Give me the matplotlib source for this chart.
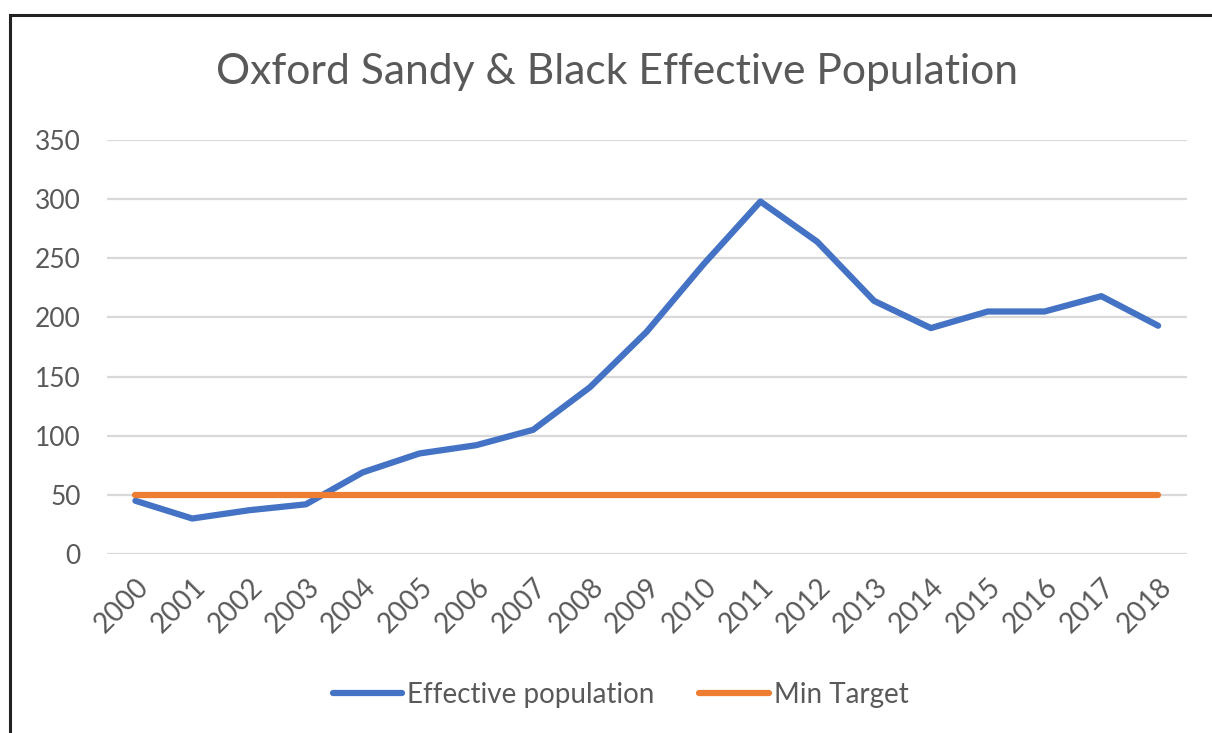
import matplotlib
matplotlib.use("Agg")
import matplotlib.pyplot as plt
from matplotlib.patches import Rectangle

# Data
years = [str(y) for y in range(2000, 2019)]
effective_population = [45, 30, 37, 42, 69, 85, 92, 105, 141, 188, 245, 298,
                        264, 214, 191, 205, 205, 218, 193]
min_target = [50] * len(years)
y_ticks = [0, 50, 100, 150, 200, 250, 300, 350]

plt.rcParams['font.family'] = ['Lato', 'DejaVu Sans']
text_grey = '#595959'

fig = plt.figure(figsize=(12.12, 7.33), dpi=100)
ax = fig.add_axes([0.0883, 0.2442, 0.8907, 0.5648])

x = list(range(len(years)))
ax.plot(x, effective_population, color='#4472C4', lw=4.5,
        solid_capstyle='round', solid_joinstyle='round',
        label='Effective population', zorder=3)
ax.plot(x, min_target, color='#ED7D31', lw=4.5,
        solid_capstyle='round', label='Min Target', zorder=3)

ax.set_xlim(-0.5, len(years) - 0.5)
ax.set_ylim(0, 350)
ax.set_yticks(y_ticks)
ax.set_xticks(x)
ax.set_xticklabels(years, rotation=45, ha='right', rotation_mode='anchor')
ax.grid(axis='y', color='#D9D9D9', lw=1.6)
ax.set_axisbelow(True)
for s in ax.spines.values():
    s.set_visible(False)
ax.tick_params(axis='both', length=0, colors=text_grey)
ax.tick_params(axis='y', pad=19, labelsize=19)
ax.tick_params(axis='x', pad=14, labelsize=20)

fig.text(0.509, 0.902, 'Oxford Sandy & Black Effective Population',
         ha='center', va='center', fontsize=30.7, color=text_grey)

leg = fig.legend(loc='center', bbox_to_anchor=(0.512, 0.052), ncol=2,
                 frameon=False, fontsize=20, handlelength=2.5,
                 handletextpad=0.18, columnspacing=1.6)
for t in leg.get_texts():
    t.set_color(text_grey)

# black frame around the chart, cut off at right and bottom like the screenshot
fig.patches.append(Rectangle((10 / 1212, -0.05), 1.1, 1 - 15 / 733 + 0.05,
                             transform=fig.transFigure, fill=False,
                             edgecolor='#222222', lw=2.2))

fig.savefig('out.png', dpi=100)
